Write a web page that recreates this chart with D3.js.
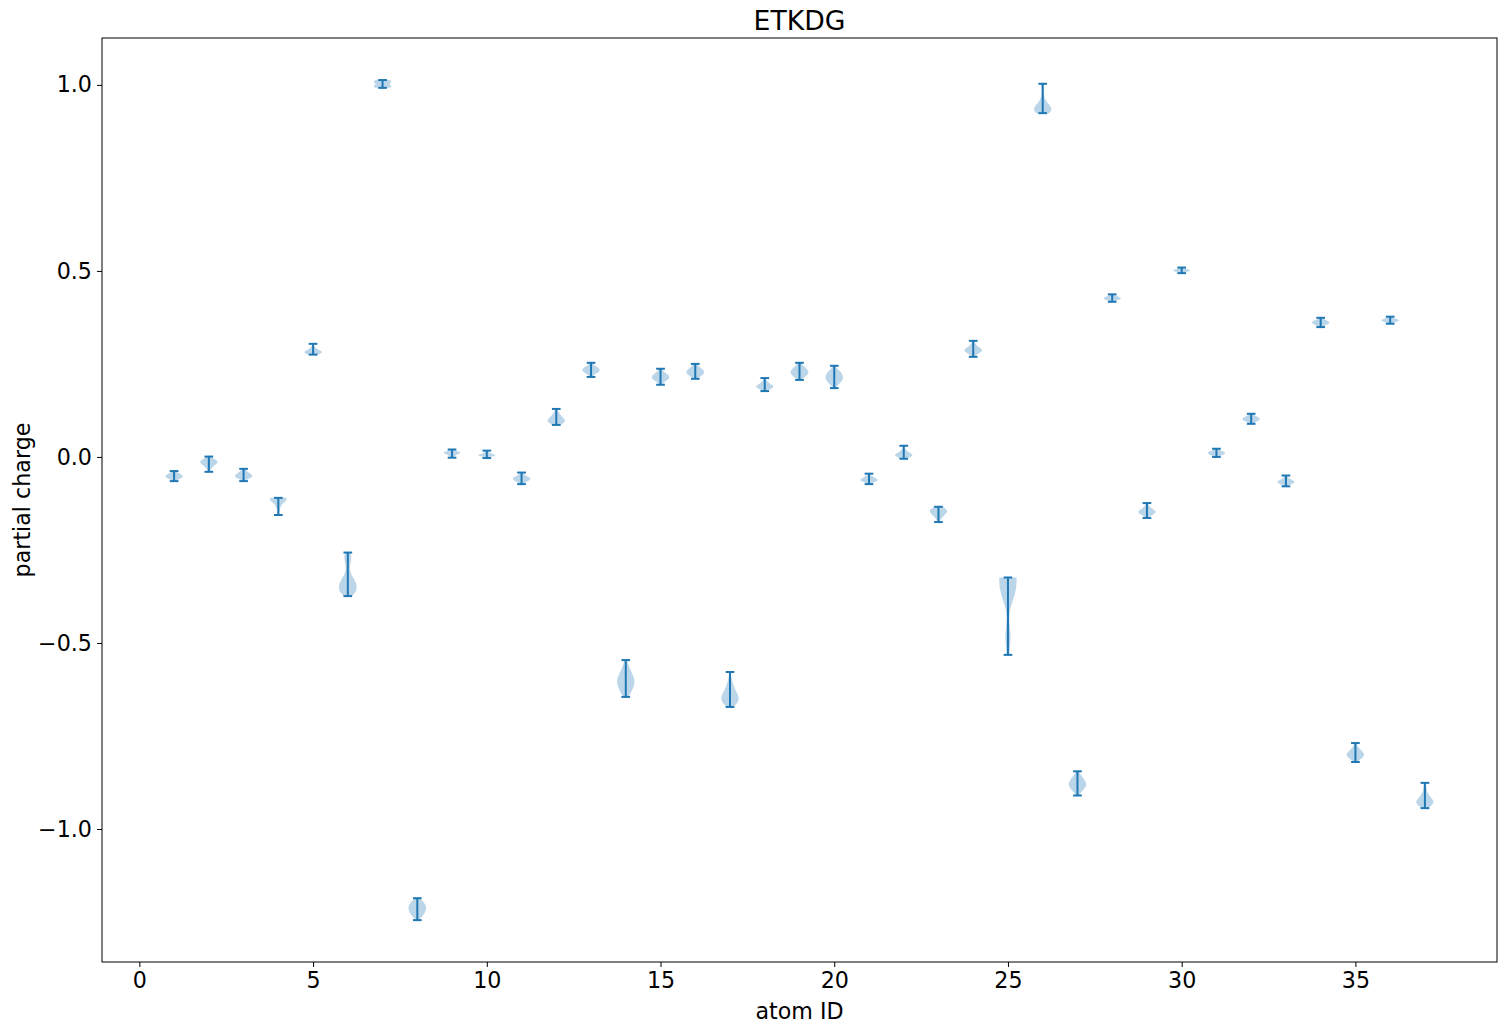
<!DOCTYPE html>
<html>
<head>
<meta charset="utf-8">
<script src="https://cdn.jsdelivr.net/npm/d3@7"></script>
<style>
  html, body { margin: 0; padding: 0; background: #fff; }
  svg { display: block; font-family: "DejaVu Sans", sans-serif; }
</style>
</head>
<body>
<svg id="chart" width="1507" height="1033"></svg>
<script>
// ---- data ----
const atomIds = [1,2,3,4,5,6,7,8,9,10,11,12,13,14,15,16,17,18,19,20,21,22,23,24,25,26,27,28,29,30,31,32,33,34,35,36,37];
const maxVals = [-0.038,0.001,-0.032,-0.110,0.304,-0.257,1.013,-1.186,0.020,0.017,-0.042,0.129,0.253,-0.546,0.237,0.250,-0.578,0.212,0.253,0.245,-0.045,0.030,-0.134,0.312,-0.324,1.003,-0.845,0.437,-0.124,0.509,0.022,0.116,-0.050,0.374,-0.769,0.377,-0.876];
const minVals = [-0.065,-0.040,-0.065,-0.156,0.275,-0.374,0.992,-1.245,-0.002,-0.003,-0.073,0.086,0.215,-0.645,0.194,0.210,-0.672,0.177,0.207,0.185,-0.073,-0.005,-0.175,0.269,-0.532,0.924,-0.910,0.417,-0.164,0.494,0.000,0.089,-0.079,0.349,-0.820,0.358,-0.944];
// relative density, sampled evenly from min (first) to max (last)
const densities = [
  [0.15,0.4,0.7,0.95,1,0.85,0.6,0.35,0.15],
  [0.1,0.2,0.35,0.55,0.8,1,0.9,0.55,0.25],
  [0.15,0.4,0.75,1,0.95,0.75,0.5,0.3,0.1],
  [0.1,0.12,0.15,0.2,0.3,0.45,0.7,0.95,0.9],
  [0.5,0.9,1,0.8,0.55,0.35,0.2,0.1,0.05],
  [0.45,0.95,1.0,0.75,0.4,0.25,0.3,0.4,0.3],
  [0.8,0.95,1,0.9,0.8,0.9,1,0.95,0.8],
  [0.15,0.45,0.7,0.9,1,1,0.85,0.6,0.3],
  [0.1,0.2,0.4,0.6,0.85,1,0.7,0.4,0.2],
  [0.15,0.35,0.7,1,0.8,0.5,0.3,0.15,0.05],
  [0.15,0.4,0.7,0.95,1,0.8,0.5,0.25,0.1],
  [0.5,0.8,1,0.9,0.7,0.5,0.35,0.2,0.1],
  [0.1,0.3,0.6,0.9,1,0.85,0.55,0.3,0.1],
  [0.3,0.6,0.85,1,0.95,0.75,0.5,0.3,0.15],
  [0.15,0.35,0.65,0.95,1,0.85,0.55,0.3,0.1],
  [0.2,0.5,0.8,1,1,0.85,0.6,0.35,0.15],
  [0.4,0.85,1,0.85,0.6,0.4,0.25,0.15,0.1],
  [0.2,0.55,0.9,1,0.75,0.5,0.3,0.15,0.1],
  [0.2,0.5,0.8,1,1,0.85,0.6,0.35,0.15],
  [0.15,0.4,0.7,0.95,1,0.9,0.65,0.35,0.15],
  [0.15,0.4,0.75,1,0.9,0.65,0.4,0.2,0.1],
  [0.3,0.7,1,0.9,0.6,0.35,0.2,0.1,0.05],
  [0.1,0.2,0.35,0.55,0.75,0.95,1,0.8,0.5],
  [0.15,0.4,0.75,1,0.9,0.6,0.35,0.2,0.1],
  [0.15,0.25,0.3,0.2,0.15,0.35,0.7,0.95,1.0],
  [0.75,1,0.85,0.5,0.25,0.15,0.12,0.15,0.2],
  [0.15,0.4,0.7,0.95,1,0.85,0.6,0.35,0.15],
  [0.15,0.4,0.7,0.95,1,0.85,0.6,0.35,0.15],
  [0.15,0.4,0.75,1,0.9,0.6,0.35,0.2,0.1],
  [0.1,0.3,0.6,0.9,1,0.85,0.55,0.3,0.1],
  [0.15,0.4,0.7,0.95,1,0.85,0.6,0.35,0.15],
  [0.15,0.4,0.7,0.95,1,0.85,0.6,0.35,0.15],
  [0.15,0.4,0.75,1,0.9,0.6,0.35,0.2,0.1],
  [0.15,0.4,0.7,0.95,1,0.85,0.6,0.35,0.15],
  [0.2,0.5,0.85,1,0.9,0.65,0.4,0.2,0.1],
  [0.15,0.4,0.7,0.95,1,0.85,0.6,0.35,0.15],
  [0.4,0.8,1,0.8,0.5,0.3,0.2,0.15,0.1]
];
const xTicks = [0,5,10,15,20,25,30,35];
const yTicks = [-1.0,-0.5,0.0,0.5,1.0];
const titleText = "ETKDG";
const xLabel = "atom ID";
const yLabel = "partial charge";

// ---- layout ----
const W = 1507, H = 1033;
const plot = { left: 102, right: 1497, top: 38, bottom: 962 };
const color = "#1f77b4";
const violinWidth = 0.5;

const svg = d3.select("#chart");
const x = d3.scaleLinear().domain([-1.075, 39.075]).range([plot.left, plot.right]);
const y = d3.scaleLinear().domain([-1.3575, 1.126]).range([plot.bottom, plot.top]);

const fmt = v => (v < 0 ? "\u2212" : "") + Math.abs(v).toFixed(1);

// axes
const xAxis = d3.axisBottom(x).tickValues(xTicks).tickSize(5).tickPadding(5).tickFormat(d3.format("d"));
const yAxis = d3.axisLeft(y).tickValues(yTicks).tickSize(5).tickPadding(5).tickFormat(fmt);

const gx = svg.append("g").attr("transform", `translate(0,${plot.bottom})`).call(xAxis);
const gy = svg.append("g").attr("transform", `translate(${plot.left},0)`).call(yAxis);
[gx, gy].forEach(g => {
  g.select(".domain").remove();
  g.selectAll(".tick line").attr("stroke", "#000").attr("stroke-width", 1);
  g.selectAll(".tick text").attr("fill", "#000").style("font-size", "22.2px").style("font-family", "DejaVu Sans");
});

// violins
const data = atomIds.map((id, i) => ({ id, min: minVals[i], max: maxVals[i], dens: densities[i] }));
const g = svg.append("g");
const halfW = (x(violinWidth / 2) - x(0));
data.forEach(d => {
  const n = d.dens.length;
  const pts = d.dens.map((w, k) => ({ v: d.min + (d.max - d.min) * k / (n - 1), w }));
  const area = d3.area()
    .y(p => y(p.v))
    .x0(p => x(d.id) - p.w * halfW)
    .x1(p => x(d.id) + p.w * halfW)
    .curve(d3.curveCatmullRom);
  g.append("path").datum(pts).attr("d", area)
    .attr("fill", color).attr("fill-opacity", 0.3).attr("stroke", "none");
});
// bars and caps
const capHalf = x(violinWidth / 4) - x(0);
g.selectAll(".bar").data(data).join("line")
  .attr("x1", d => x(d.id)).attr("x2", d => x(d.id))
  .attr("y1", d => y(d.min)).attr("y2", d => y(d.max))
  .attr("stroke", color).attr("stroke-width", 2);
g.selectAll(".capmax").data(data).join("line")
  .attr("x1", d => x(d.id) - capHalf).attr("x2", d => x(d.id) + capHalf)
  .attr("y1", d => y(d.max)).attr("y2", d => y(d.max))
  .attr("stroke", color).attr("stroke-width", 2);
g.selectAll(".capmin").data(data).join("line")
  .attr("x1", d => x(d.id) - capHalf).attr("x2", d => x(d.id) + capHalf)
  .attr("y1", d => y(d.min)).attr("y2", d => y(d.min))
  .attr("stroke", color).attr("stroke-width", 2);

// frame
svg.append("rect")
  .attr("x", plot.left).attr("y", plot.top)
  .attr("width", plot.right - plot.left).attr("height", plot.bottom - plot.top)
  .attr("fill", "none").attr("stroke", "#000").attr("stroke-width", 1);

// texts
svg.append("text").attr("x", (plot.left + plot.right) / 2).attr("y", 30)
  .attr("text-anchor", "middle").style("font-size", "26.7px").text(titleText);
svg.append("text").attr("x", (plot.left + plot.right) / 2).attr("y", 1019)
  .attr("text-anchor", "middle").style("font-size", "22.2px").text(xLabel);
svg.append("text").attr("transform", `translate(30,${(plot.top + plot.bottom) / 2}) rotate(-90)`)
  .attr("text-anchor", "middle").style("font-size", "22.2px").text(yLabel);
</script>
</body>
</html>
